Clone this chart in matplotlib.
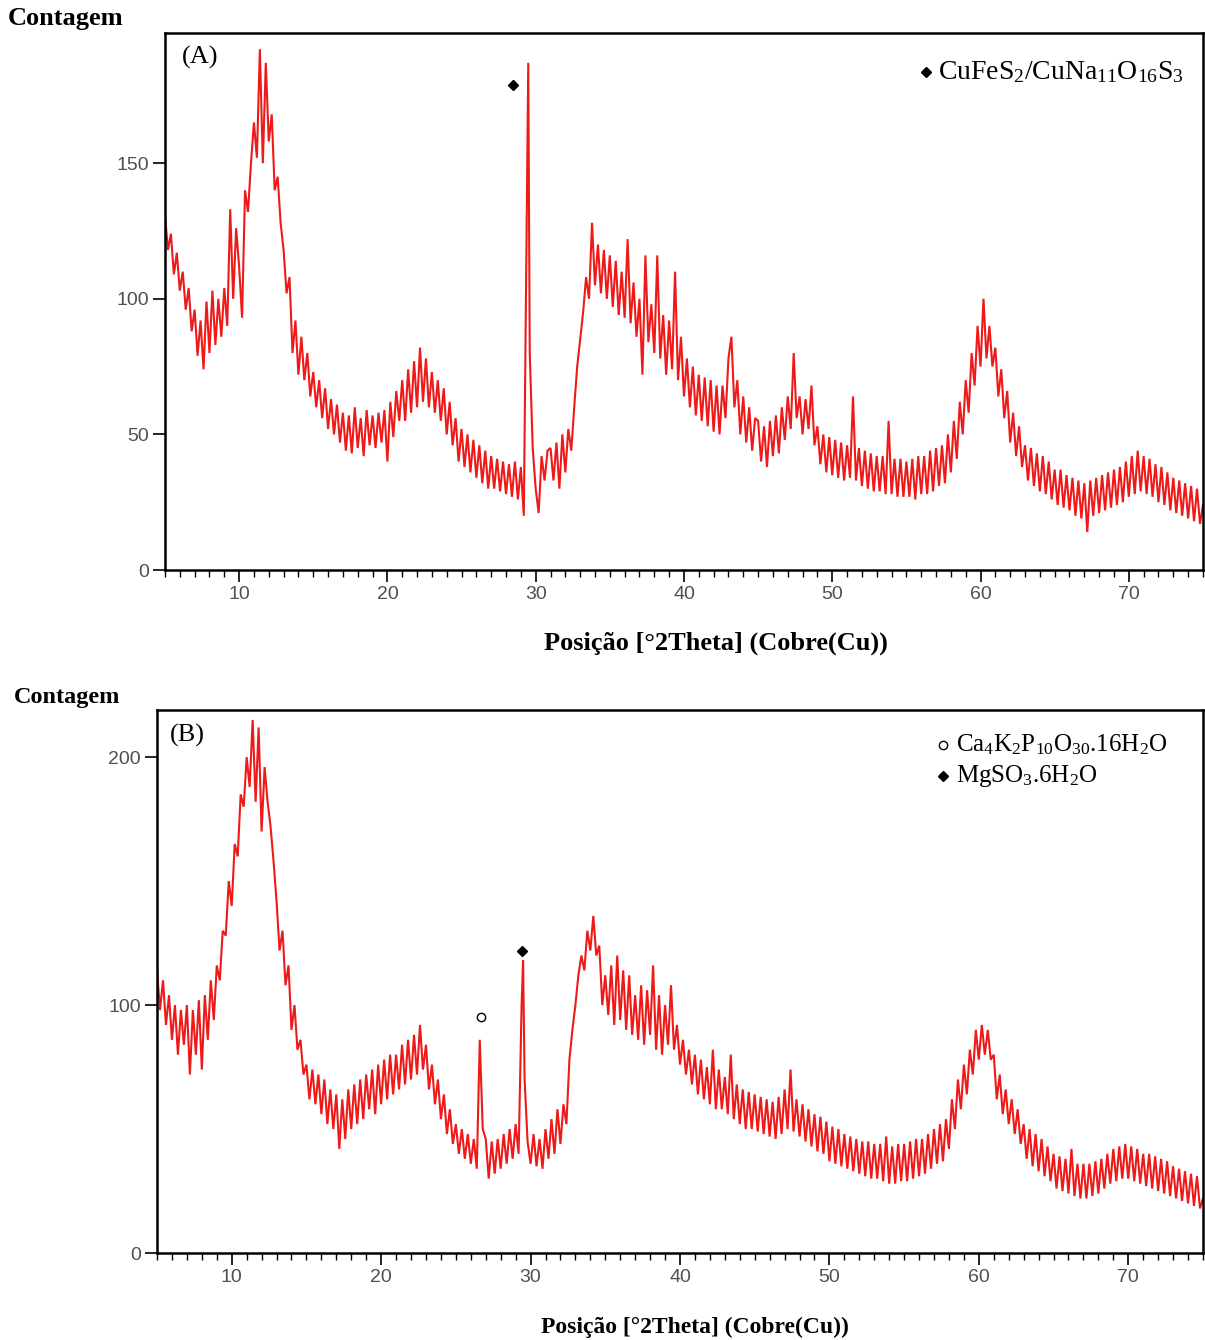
# -*- coding: utf-8 -*-
import numpy as np
import matplotlib
matplotlib.use('Agg')
import matplotlib.pyplot as plt

plt.rcParams['mathtext.fontset'] = 'custom'
plt.rcParams['mathtext.rm'] = 'Liberation Serif'
plt.rcParams['mathtext.it'] = 'Liberation Serif:italic'

"""## Dados lidos dos difratogramas (passo de 0.2 grau, de 5 a 75)"""

theta_inicio = 5.0
theta_passo = 0.2

contagem_a = [
    131, 118, 124, 109, 117, 103, 110, 96, 104, 88,
    96, 79, 92, 74, 99, 80, 103, 83, 100, 86,
    104, 90, 133, 100, 126, 112, 93, 140, 132, 150,
    165, 152, 192, 150, 187, 158, 168, 140, 145, 128,
    118, 102, 108, 80, 92, 72, 86, 70, 80, 64,
    73, 60, 70, 56, 67, 52, 63, 50, 61, 47,
    58, 44, 57, 43, 60, 45, 56, 42, 59, 46,
    57, 45, 58, 47, 59, 40, 62, 49, 66, 55,
    70, 55, 74, 58, 77, 60, 82, 62, 78, 60,
    73, 58, 70, 55, 67, 50, 62, 46, 56, 40,
    52, 38, 50, 36, 48, 34, 46, 32, 44, 30,
    42, 30, 41, 29, 40, 28, 39, 27, 40, 26,
    38, 20, 131, 80, 45, 30, 21, 42, 33, 44,
    45, 33, 47, 30, 50, 36, 52, 44, 60, 75,
    85, 95, 108, 100, 128, 105, 120, 102, 118, 100,
    116, 97, 114, 94, 110, 93, 122, 91, 106, 86,
    100, 72, 116, 84, 98, 80, 116, 78, 94, 72,
    92, 74, 110, 70, 86, 64, 78, 60, 75, 57,
    72, 55, 71, 53, 70, 51, 68, 50, 68, 56,
    78, 86, 60, 70, 50, 64, 47, 60, 44, 56,
    55, 40, 53, 38, 55, 42, 57, 43, 60, 48,
    64, 52, 80, 56, 64, 50, 63, 52, 68, 46,
    53, 39, 50, 36, 49, 35, 48, 34, 47, 33,
    46, 34, 64, 33, 45, 31, 44, 30, 43, 29,
    42, 29, 42, 28, 55, 28, 41, 27, 41, 27,
    40, 27, 41, 26, 42, 28, 42, 28, 44, 29,
    45, 31, 46, 32, 50, 36, 55, 41, 62, 50,
    70, 58, 80, 68, 90, 75, 100, 78, 90, 75,
    82, 64, 74, 56, 66, 47, 58, 42, 53, 38,
    46, 33, 45, 31, 43, 29, 42, 28, 40, 26,
    37, 24, 37, 23, 35, 22, 34, 20, 33, 19,
    32, 14, 33, 20, 34, 21, 35, 22, 36, 23,
    37, 24, 38, 25, 40, 27, 42, 28, 44, 29,
    42, 28, 41, 27, 39, 25, 38, 24, 36, 22,
    34, 21, 33, 20, 32, 19, 31, 18, 30, 17,
    24,
]
# pico estreito que cai entre dois pontos da grade
pico_a_theta = [29.5]
pico_a_contagem = [187]

contagem_b = [
    114, 98, 110, 92, 104, 86, 100, 80, 98, 84,
    100, 72, 98, 80, 102, 74, 104, 86, 110, 94,
    116, 110, 130, 128, 150, 140, 165, 160, 185, 180,
    200, 188, 215, 182, 212, 170, 196, 182, 172, 158,
    142, 122, 130, 108, 116, 90, 100, 82, 86, 72,
    76, 62, 74, 60, 72, 56, 70, 52, 66, 50,
    64, 42, 62, 46, 66, 50, 68, 52, 70, 54,
    72, 58, 74, 56, 76, 60, 78, 62, 80, 64,
    80, 66, 84, 68, 86, 70, 88, 72, 92, 74,
    84, 66, 76, 60, 70, 54, 64, 48, 58, 44,
    52, 40, 50, 38, 48, 36, 46, 34, 86, 50,
    46, 30, 45, 32, 46, 34, 48, 36, 50, 38,
    52, 40, 100, 70, 45, 36, 48, 35, 46, 34,
    50, 38, 54, 40, 58, 44, 60, 52, 78, 90,
    100, 112, 120, 114, 130, 122, 136, 120, 124, 100,
    112, 96, 116, 92, 120, 94, 114, 90, 112, 88,
    104, 86, 108, 84, 106, 88, 116, 82, 104, 80,
    100, 84, 108, 82, 92, 76, 86, 72, 82, 68,
    80, 64, 78, 62, 75, 60, 82, 58, 74, 58,
    71, 56, 80, 54, 68, 52, 66, 50, 65, 50,
    64, 49, 63, 48, 62, 47, 61, 46, 63, 48,
    66, 50, 74, 49, 62, 47, 60, 45, 58, 43,
    56, 41, 55, 40, 53, 37, 51, 36, 50, 35,
    48, 34, 47, 33, 46, 32, 45, 31, 45, 30,
    44, 30, 44, 29, 47, 28, 43, 28, 44, 29,
    44, 29, 45, 30, 46, 31, 46, 32, 48, 34,
    50, 36, 52, 37, 54, 42, 62, 50, 70, 58,
    76, 64, 82, 72, 90, 78, 92, 80, 90, 78,
    80, 62, 72, 56, 66, 52, 62, 48, 58, 44,
    52, 38, 50, 35, 48, 33, 46, 31, 43, 29,
    40, 26, 39, 25, 38, 24, 42, 23, 36, 22,
    36, 22, 36, 23, 37, 24, 38, 26, 40, 28,
    42, 29, 43, 30, 44, 30, 43, 29, 42, 28,
    40, 27, 40, 26, 39, 25, 38, 24, 37, 23,
    35, 22, 34, 21, 33, 20, 32, 19, 31, 18,
    22,
]
pico_b_theta = [29.5]
pico_b_contagem = [118]

# marcadores das fases identificadas
fase_a_theta = [28.5]
fase_a_contagem = [179]
fase_b_circulo = (26.7, 95)
fase_b_losango = (29.4, 122)

yticks_a = [0, 50, 100, 150]
yticks_b = [0, 100, 200]
xticks = [10, 20, 30, 40, 50, 60, 70]

COR_LINHA = '#ee1a1a'
COR_TICK = '#505050'
SERIF = ['Liberation Serif', 'DejaVu Serif']
NARROW = ['Liberation Sans Narrow', 'Liberation Sans', 'DejaVu Sans']


def monta_serie(contagens, extra_theta, extra_contagem):
    theta = theta_inicio + theta_passo * np.arange(len(contagens))
    theta = np.concatenate([theta, extra_theta])
    valores = np.concatenate([np.array(contagens, float), extra_contagem])
    ordem = np.argsort(theta, kind='stable')
    return theta[ordem], valores[ordem]


def desenha_painel(ax, contagens, extra_theta, extra_contagem, xlim, ylim, yticks):
    theta, valores = monta_serie(contagens, extra_theta, extra_contagem)
    ax.plot(theta, valores, color=COR_LINHA, lw=1.5, solid_joinstyle='miter')
    ax.set_xlim(*xlim)
    ax.set_ylim(*ylim)
    ax.set_xticks(xticks)
    ax.set_xticks(np.arange(5, 76, 1), minor=True)
    ax.set_yticks(yticks)
    ax.tick_params(axis='both', which='major', direction='out', length=8.5,
                   width=1.2, colors='black', labelcolor=COR_TICK, labelsize=14, pad=3)
    ax.tick_params(axis='x', which='minor', direction='out', length=5, width=1.0)
    for lab in ax.get_xticklabels() + ax.get_yticklabels():
        lab.set_family(NARROW)
    for sp in ax.spines.values():
        sp.set_linewidth(1.8)
        sp.set_color('black')


fig = plt.figure(figsize=(12.05, 13.4), dpi=100)

ax_a = fig.add_axes([0.1369, 0.5746, 0.8614, 0.4008])
desenha_painel(ax_a, contagem_a, pico_a_theta, pico_a_contagem, (5.1, 74.7), (0, 198), yticks_a)
ax_a.plot(fase_a_theta, fase_a_contagem, 'D', color='black', ms=5)
ax_a.text(0.016, 0.955, '(A)', transform=ax_a.transAxes, family=SERIF, fontsize=19, va='center')
ax_a.plot([0.733], [0.927], 'D', color='black', ms=5, transform=ax_a.transAxes)
ax_a.text(0.745, 0.927, r'CuFeS$_\mathrm{2}$/CuNa$_\mathrm{11}$O$_\mathrm{16}$S$_\mathrm{3}$',
          transform=ax_a.transAxes, family=SERIF, fontsize=20, va='center')

ax_b = fig.add_axes([0.1303, 0.0649, 0.868, 0.4052])
desenha_painel(ax_b, contagem_b, pico_b_theta, pico_b_contagem, (5.0, 74.9), (0, 219), yticks_b)
ax_b.plot(*fase_b_circulo, 'o', mfc='white', mec='black', ms=6, mew=1.0)
ax_b.plot(*fase_b_losango, 'D', color='black', ms=5)
ax_b.text(0.012, 0.954, '(B)', transform=ax_b.transAxes, family=SERIF, fontsize=19, va='center')
ax_b.plot([0.751], [0.9355], 'o', mfc='white', mec='black', ms=6, mew=1.0, transform=ax_b.transAxes)
ax_b.text(0.764, 0.9355, r'Ca$_\mathrm{4}$K$_\mathrm{2}$P$_\mathrm{10}$O$_\mathrm{30}$.16H$_\mathrm{2}$O',
          transform=ax_b.transAxes, family=SERIF, fontsize=18, va='center')
ax_b.plot([0.751], [0.878], 'D', color='black', ms=5, transform=ax_b.transAxes)
ax_b.text(0.764, 0.878, r'MgSO$_\mathrm{3}$.6H$_\mathrm{2}$O',
          transform=ax_b.transAxes, family=SERIF, fontsize=18, va='center')

# titulos dos eixos
fig.text(8 / 1205, 1 - 18 / 1340, 'Contagem', family=SERIF, fontweight='bold', fontsize=19, va='center')
fig.text(14 / 1205, 1 - 698 / 1340, 'Contagem', family=SERIF, fontweight='bold', fontsize=17.5, va='center')
fig.text(716 / 1205, 1 - 643 / 1340, 'Posição [°2Theta] (Cobre(Cu))', family=SERIF,
         fontweight='bold', fontsize=19, ha='center', va='center')
fig.text(695 / 1205, 1 - 1327 / 1340, 'Posição [°2Theta] (Cobre(Cu))', family=SERIF,
         fontweight='bold', fontsize=17, ha='center', va='center')

fig.savefig('out.png', dpi=100)
